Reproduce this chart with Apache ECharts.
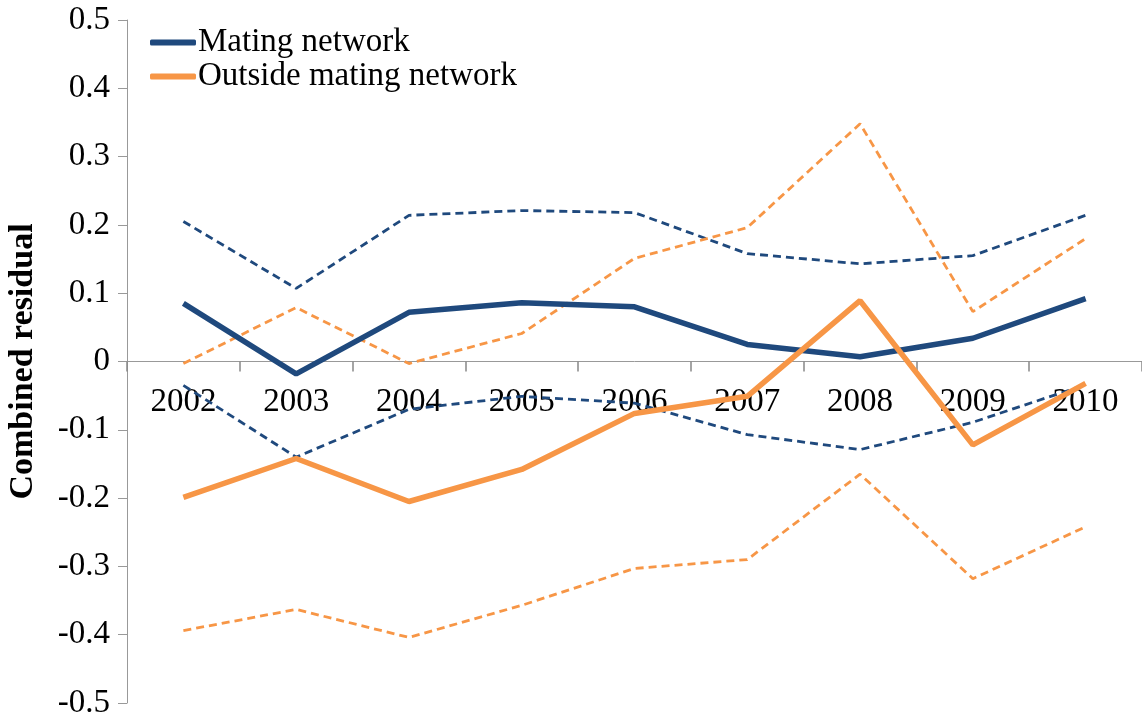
<!DOCTYPE html>
<html>
<head>
<meta charset="utf-8">
<script src="https://cdn.jsdelivr.net/npm/echarts@6/dist/echarts.min.js"></script>
<style>
  html, body { margin: 0; padding: 0; background: #fff; }
  #chart { width: 1142px; height: 717px; }
</style>
</head>
<body>
<div id="chart"></div>
<script>
// data
var years = ['2002', '2003', '2004', '2005', '2006', '2007', '2008', '2009', '2010'];
var mating = [0.085, -0.018, 0.072, 0.086, 0.080, 0.025, 0.007, 0.034, 0.092];
var matingUpper = [0.205, 0.107, 0.214, 0.221, 0.218, 0.158, 0.143, 0.155, 0.214];
var matingLower = [-0.035, -0.140, -0.070, -0.051, -0.061, -0.107, -0.129, -0.089, -0.034];
var outside = [-0.199, -0.142, -0.205, -0.158, -0.076, -0.051, 0.089, -0.122, -0.032];
var outsideUpper = [-0.003, 0.079, -0.003, 0.041, 0.151, 0.196, 0.348, 0.073, 0.180];
var outsideLower = [-0.394, -0.363, -0.404, -0.357, -0.303, -0.290, -0.165, -0.318, -0.242];

var blue = '#1F497D';
var orange = '#F79646';
var serif = '"Liberation Serif", "DejaVu Serif", serif';

function solid(name, data, color) {
    return {
        name: name, type: 'line', data: data, symbol: 'none', z: 3,
        lineStyle: { color: color, width: 5.5 },
        itemStyle: { color: color }
    };
}
function dashed(name, data, color) {
    return {
        name: name, type: 'line', data: data, symbol: 'none', z: 2,
        lineStyle: { color: color, width: 2.8, type: [8, 5] },
        itemStyle: { color: color }
    };
}

var gridTop = 20, gridBottom = 14, height = 717;
var plotH = height - gridTop - gridBottom;

var chart = echarts.init(document.getElementById('chart'));
chart.setOption({
    animation: false,
    grid: { left: 127, right: 0, top: gridTop, bottom: gridBottom, containLabel: false, outerBoundsMode: 'none' },
    legend: {
        data: ['Mating network', 'Outside mating network'],
        left: 145, top: 21, orient: 'vertical',
        itemWidth: 46, itemHeight: 6, itemGap: 1,
        icon: 'roundRect',
        textStyle: { fontFamily: serif, fontSize: 33, color: '#000', padding: [0, 0, 0, -3] }
    },
    xAxis: {
        type: 'category', data: years,
        // the category axis sits on y = 0, labels just under it
        offset: -plotH / 2,
        axisLine: { onZero: false, lineStyle: { color: '#999', width: 1 } },
        axisTick: { show: true, interval: 0, length: 10, lineStyle: { color: '#888', width: 1.5 } },
        axisLabel: { fontFamily: serif, fontSize: 33, color: '#000', margin: 24 }
    },
    yAxis: {
        type: 'value', min: -0.5, max: 0.5, interval: 0.1,
        name: 'Combined residual', nameLocation: 'middle', nameGap: 87,
        nameTextStyle: { fontFamily: serif, fontSize: 34, fontWeight: 'bold', color: '#000' },
        axisLine: { show: true, lineStyle: { color: '#999', width: 1 } },
        axisTick: { show: true, length: 9, lineStyle: { color: '#999' } },
        splitLine: { show: false },
        axisLabel: {
            fontFamily: serif, fontSize: 33, color: '#000', margin: 17,
            formatter: function (v) { return Math.abs(v) < 1e-9 ? '0' : v.toFixed(1); }
        }
    },
    series: [
        solid('Mating network', mating, blue),
        solid('Outside mating network', outside, orange),
        dashed('Mating upper', matingUpper, blue),
        dashed('Mating lower', matingLower, blue),
        dashed('Outside upper', outsideUpper, orange),
        dashed('Outside lower', outsideLower, orange)
    ]
});
</script>
</body>
</html>
